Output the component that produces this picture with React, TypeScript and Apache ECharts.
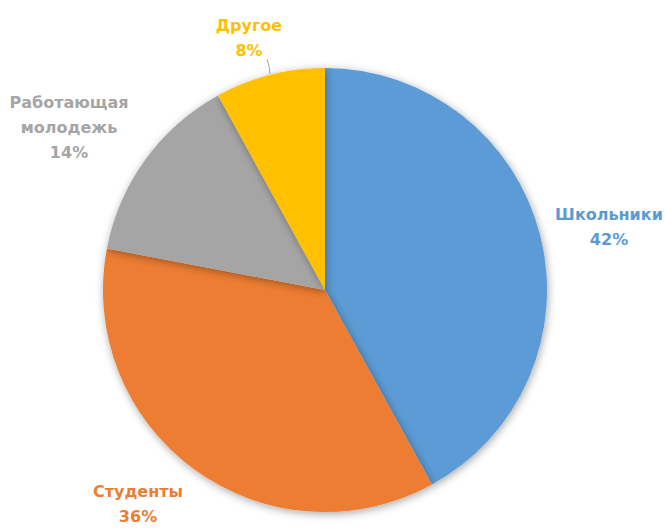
import React, { useEffect, useRef } from "react";
import * as echarts from "echarts";

const categories = ["Школьники", "Студенты", "Работающая молодежь", "Другое"];
const values = [42, 36, 14, 8];
const colors = ["#5B9BD5", "#ED7D31", "#A5A5A5", "#FFC000"];
const labelColors = ["#5B9BD5", "#ED7D31", "#A5A5A5", "#FFC000"];
// label block centers (layout only)
const labelPos = [
  [609, 227],
  [138, 504],
  [69, 127],
  [249, 38],
];

export default function App() {
  const ref = useRef<HTMLDivElement>(null);
  useEffect(() => {
    document.body.style.margin = "0";
    const chart = echarts.init(ref.current!, undefined, { renderer: "svg" });
    chart.setOption({
      animation: false,
      backgroundColor: "#ffffff",
      series: [
        {
          type: "pie",
          center: [325, 290],
          radius: 222,
          startAngle: 90,
          clockwise: true,
          emphasis: { disabled: true },
          itemStyle: {
            shadowBlur: 8,
            shadowColor: "rgba(0,0,0,0.35)",
            shadowOffsetX: 1,
            shadowOffsetY: 2,
          },
          label: {
            show: true,
            position: "outside",
            fontFamily: "'DejaVu Sans', sans-serif",
            fontWeight: "bold",
            fontSize: 16,
            lineHeight: 25,
            align: "center",
            overflow: "none",
            width: 200,
            formatter: (p: any) => `${p.name.replace(" ", "\n")}\n${p.value}%`,
          },
          labelLine: { show: false },
          labelLayout: (p: any) => {
            const r: any = {
              x: labelPos[p.dataIndex][0],
              y: labelPos[p.dataIndex][1],
              align: "center",
              verticalAlign: "middle",
            };
            if (p.dataIndex === 3) {
              r.labelLinePoints = [
                [270, 74],
                [269, 66],
                [267, 59],
              ];
            }
            return r;
          },
          data: categories.map((c, i) => ({
            name: c,
            value: values[i],
            itemStyle: { color: colors[i] },
            label: { color: labelColors[i] },
            labelLine:
              i === 3
                ? { show: true, length: 6, length2: 0, lineStyle: { color: "#A5A5A5", width: 1 } }
                : { show: false },
          })),
        },
      ],
    });
    return () => chart.dispose();
  }, []);
  return <div ref={ref} style={{ width: 665, height: 529 }} />;
}
